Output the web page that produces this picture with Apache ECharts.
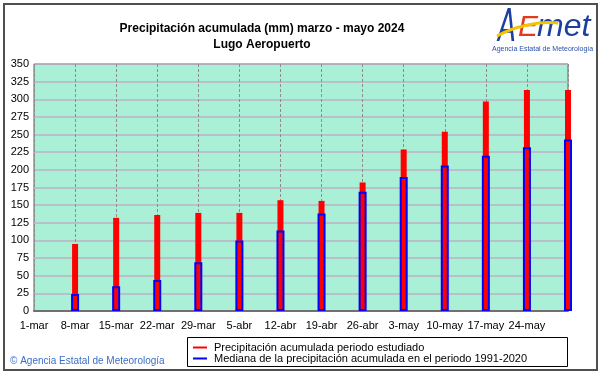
<!DOCTYPE html>
<html><head><meta charset="utf-8">
<script src="https://cdn.jsdelivr.net/npm/echarts@6/dist/echarts.min.js"></script>
<style>html,body{margin:0;padding:0;background:#fff}#c{width:601px;height:374px}</style>
</head><body><div id="c"></div>
<script>
const categories = ['1-mar','8-mar','15-mar','22-mar','29-mar','5-abr','12-abr','19-abr','26-abr','3-may','10-may','17-may','24-may','31-may'];
const precipitacion = [null,95,132,136,139,139,157,156,182,229,254,297,313,313];
const mediana = [null,24,35,44,69,100,114,138,169,190,206,220,232,243];
const yTicks = {min:0, max:350, interval:25};
const titleText = 'Precipitación acumulada (mm) marzo - mayo 2024\nLugo Aeropuerto';
const legendNames = ['Precipitación acumulada periodo estudiado','Mediana de la precipitación acumulada en el periodo 1991-2020'];

const chart = echarts.init(document.getElementById('c'), null, {renderer:'canvas'});
const font = 'Liberation Sans, Arial, sans-serif';
const xBase = {
  type:'category', data:categories, boundaryGap:false,
  axisLine:{show:true, lineStyle:{color:'#707070', width:2}},
  axisTick:{show:false},
  axisLabel:{show:true, color:'#000', fontFamily:font, fontSize:11, margin:9,
    interval:0, formatter:(v,i)=> i===categories.length-1 ? '' : v},
  splitLine:{show:true, lineStyle:{color:'#8c8c8c', type:[3,2], width:1}}
};
chart.setOption({
  animation:false,
  backgroundColor:'#ffffff',
  title:{text:titleText, left:257, top:16, textAlign:'center',
    textStyle:{fontFamily:font, fontSize:12, fontWeight:'bold', color:'#000', lineHeight:16}},
  grid:{left:34, right:33, top:64, bottom:63, show:true, backgroundColor:'#aaf0d6', borderColor:'#606060', borderWidth:1},
  xAxis:[xBase, Object.assign({}, xBase, {show:false, splitLine:{show:false}})],
  yAxis:{type:'value', min:yTicks.min, max:yTicks.max, interval:yTicks.interval,
    axisLine:{show:false}, axisTick:{show:false},
    axisLabel:{color:'#000', fontFamily:font, fontSize:11, margin:5},
    splitLine:{show:true, lineStyle:{color:'#bdb2c6', width:1.5}}},
  legend:{orient:'vertical', left:193, top:342, padding:0, itemWidth:14, itemHeight:2, itemGap:0, icon:'rect',
    textStyle:{fontFamily:font, fontSize:11, color:'#000', lineHeight:11, padding:[0,0,0,2]},
    itemStyle:{borderWidth:0},
    data:[{name:legendNames[0], itemStyle:{color:'#ff0000', borderWidth:0}},{name:legendNames[1], itemStyle:{color:'#0000ff', borderWidth:0}}],
    selectedMode:false},
  series:[
    {name:legendNames[0], type:'bar', xAxisIndex:0, data:precipitacion, barWidth:6, clip:false,
      itemStyle:{color:'#ff0000'}},
    {name:legendNames[1], type:'bar', xAxisIndex:1, data:mediana, barWidth:8, clip:false,
      itemStyle:{color:'rgba(0,0,0,0)', borderColor:'#0000ff', borderWidth:2}}
  ],
  graphic:[
    {type:'rect', shape:{x:4, y:4, width:593, height:366}, style:{fill:null, stroke:'#505050', lineWidth:2}, silent:true, z:-1},
    {type:'rect', shape:{x:187.5, y:337.5, width:380, height:29}, style:{fill:null, stroke:'#000', lineWidth:1}, silent:true},
    {type:'text', left:10, top:356, style:{text:'© Agencia Estatal de Meteorología', fill:'#3a6ec8', font:'10px '+font}},
    {type:'text', x:498, y:52, scaleX:0.6, style:{text:'A', fill:'#1d3f9e', font:'italic 44px DejaVu Sans, sans-serif', verticalAlign:'bottom'}},
    {type:'text', x:518, y:43, style:{text:'E', fill:'#e23a1e', font:'italic 30px Liberation Sans, sans-serif', verticalAlign:'bottom'}},
    {type:'text', x:537, y:43, style:{text:'met', fill:'#1d3f9e', font:'italic 32px Liberation Sans, sans-serif', verticalAlign:'bottom'}},
    {type:'bezierCurve', shape:{x1:497, y1:36, cpx1:515, cpy1:26, cpx2:540, cpy2:21, x2:558, y2:23}, style:{stroke:'#f5c400', lineWidth:3, fill:null}},
    {type:'text', x:492, y:46, style:{text:'Agencia Estatal de Meteorología', fill:'#2a4fa8', font:'7px Liberation Sans, sans-serif'}}
  ]
});
</script></body></html>
